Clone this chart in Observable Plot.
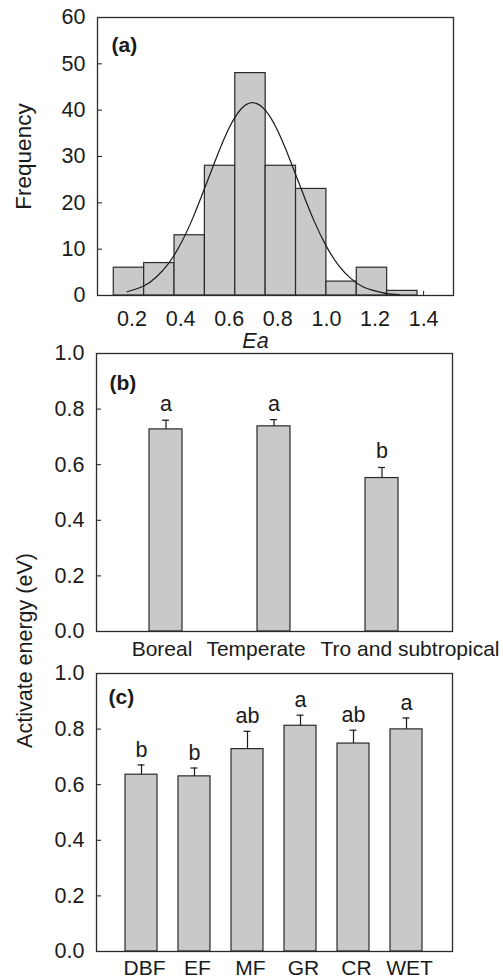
<!DOCTYPE html>
<html><head><meta charset="utf-8">
<script src="https://cdn.jsdelivr.net/npm/d3@7"></script>
<script src="https://cdn.jsdelivr.net/npm/@observablehq/plot@0.6"></script>
<style>
body{margin:0;background:#fff;}
#root{position:relative;width:503px;height:980px;overflow:hidden;}
#root svg{position:absolute;left:0;}
</style></head><body><div id="root"></div>
<script>
// ---- data ----
const binEdges = [0.125, 0.25, 0.375, 0.5, 0.625, 0.75, 0.875, 1.0, 1.125, 1.25, 1.375];
const binCounts = [6, 7, 13, 28, 48, 28, 23, 3, 6, 1];
const curveX = [0.18, 0.25, 0.30, 0.35, 0.40, 0.45, 0.50, 0.55, 0.60, 0.65, 0.70, 0.75, 0.80, 0.85, 0.90, 0.95, 1.00, 1.05, 1.10, 1.15, 1.20, 1.25, 1.30];
const curveY = [0.8, 2.1, 4.0, 6.9, 11.1, 16.7, 23.3, 30.1, 36.2, 40.3, 41.6, 39.9, 35.5, 29.3, 22.5, 16.0, 10.6, 6.5, 3.7, 1.9, 1.0, 0.4, 0.2];
const freqTicks = [0, 10, 20, 30, 40, 50, 60];
const eaTicks = [0.2, 0.4, 0.6, 0.8, 1.0, 1.2, 1.4];

const biomes = ["Boreal", "Temperate", "Tro and subtropical"];
const biomeMean = [0.727, 0.738, 0.552];
const biomeSE = [0.033, 0.024, 0.038];
const biomeLetters = ["a", "a", "b"];

const ecoTypes = ["DBF", "EF", "MF", "GR", "CR", "WET"];
const ecoMean = [0.636, 0.630, 0.728, 0.812, 0.748, 0.799];
const ecoSE = [0.035, 0.030, 0.064, 0.038, 0.048, 0.041];
const ecoLetters = ["b", "b", "ab", "a", "ab", "a"];
const energyTicks = [0, 0.2, 0.4, 0.6, 0.8, 1.0];

// ---- styles ----
const FONT = "'Liberation Sans', Arial, Helvetica, sans-serif";
const FS = 21.5;
const BAR = "#c8c9cb";
const EDGE = "#2a2a2a";
const INK = "#1a1a1a";
const style = {fontFamily: FONT, fontSize: FS + "px", color: INK, background: "none", overflow: "visible"};

const root = document.getElementById("root");
function place(svg, top) { svg.style.top = top + "px"; svg.style.position = "absolute"; root.appendChild(svg); }

// ---- panel (a) ----
const hist = binCounts.map((c, i) => ({x1: binEdges[i], x2: binEdges[i + 1], count: c}));
const curve = curveX.map((x, i) => ({x, y: curveY[i]}));
const A = Plot.plot({
  width: 503, height: 350,
  marginLeft: 97, marginRight: 50, marginTop: 17, marginBottom: 55,
  style,
  x: {domain: [0.058, 1.523], label: null},
  y: {domain: [0, 60], label: null},
  marks: [
    Plot.axisY(freqTicks, {tickSize: 5, dx: 5, tickFormat: () => "", label: null, stroke: INK}),
    Plot.axisX(eaTicks, {tickSize: 4, dy: -4, tickFormat: () => "", label: null, stroke: INK}),
    Plot.rectY(hist, {x1: "x1", x2: "x2", y: "count", fill: BAR, stroke: EDGE, strokeWidth: 1.2}),
    Plot.line(curve, {x: "x", y: "y", curve: "natural", stroke: INK, strokeWidth: 1.2}),
    Plot.frame({stroke: EDGE, strokeWidth: 1.3}),
    Plot.axisY(freqTicks, {tickSize: 0, tickPadding: 12, label: null, fontSize: FS}),
    Plot.axisX(eaTicks, {tickSize: 0, tickPadding: 15, tickFormat: d3.format(".1f"), label: null, fontSize: FS}),
    Plot.text(["Ea"], {text: d => d, frameAnchor: "bottom", dx: -20, dy: 46, lineAnchor: "middle", fontStyle: "italic", fontSize: FS}),
    Plot.text(["(a)"], {text: d => d, frameAnchor: "top-left", dx: 14, dy: 28, textAnchor: "start", lineAnchor: "middle", fontWeight: "bold", fontSize: 21}),
    Plot.text(["Frequency"], {text: d => d, frameAnchor: "left", dx: -74, rotate: -90, textAnchor: "middle", lineAnchor: "middle", fontSize: 22.5})
  ]
});
place(A, 0);

// ---- panel (b) ----
const biomeData = biomes.map((name, i) => ({name, mean: biomeMean[i], upper: biomeMean[i] + biomeSE[i], letter: biomeLetters[i]}));
const biomeDx = [-4, -18, 28];
const B = Plot.plot({
  width: 503, height: 321,
  marginLeft: 96, marginRight: 51, marginTop: 13, marginBottom: 30,
  style,
  x: {type: "band", domain: biomes, paddingInner: 0.692, paddingOuter: 0.494, label: null, axis: null},
  y: {domain: [0, 1], label: null},
  marks: [
    Plot.axisY(energyTicks, {tickSize: 5, dx: 5, tickFormat: () => "", label: null, stroke: INK}),
    Plot.barY(biomeData, {x: "name", y: "mean", fill: BAR, stroke: EDGE, strokeWidth: 1.2}),
    Plot.ruleX(biomeData, {x: "name", y1: "mean", y2: "upper", stroke: INK, strokeWidth: 1.2}),
    Plot.tickY(biomeData, {x: "name", y: "upper", insetLeft: 13, insetRight: 13, stroke: INK, strokeWidth: 1.2}),
    Plot.text(biomeData, {x: "name", y: "upper", text: "letter", dy: -9, lineAnchor: "bottom", fontSize: FS}),
    Plot.frame({stroke: EDGE, strokeWidth: 1.3}),
    Plot.axisY(energyTicks, {tickSize: 0, tickPadding: 12, tickFormat: d3.format(".1f"), label: null, fontSize: FS}),
    ...biomes.map((b, i) => Plot.text([b], {x: d => d, text: d => d, frameAnchor: "bottom", dy: 18, dx: biomeDx[i], lineAnchor: "middle", fontSize: 21})),
    Plot.text(["(b)"], {text: d => d, frameAnchor: "top-left", dx: 13, dy: 30, textAnchor: "start", lineAnchor: "middle", fontWeight: "bold", fontSize: 21}),
    Plot.text(["Activate energy (eV)"], {text: d => d, frameAnchor: "bottom-left", dx: -71, dy: 19, rotate: -90, textAnchor: "middle", lineAnchor: "middle", fontSize: 21.5})
  ]
});

// ---- panel (c) ----
const ecoData = ecoTypes.map((name, i) => ({name, mean: ecoMean[i], upper: ecoMean[i] + ecoSE[i], letter: ecoLetters[i]}));
const C = Plot.plot({
  width: 503, height: 319,
  marginLeft: 96, marginRight: 51, marginTop: 12, marginBottom: 29,
  style,
  x: {type: "band", domain: ecoTypes, paddingInner: 0.395, paddingOuter: 0.494, label: null, axis: null},
  y: {domain: [0, 1], label: null},
  marks: [
    Plot.axisY(energyTicks, {tickSize: 5, dx: 5, tickFormat: () => "", label: null, stroke: INK}),
    Plot.barY(ecoData, {x: "name", y: "mean", fill: BAR, stroke: EDGE, strokeWidth: 1.2}),
    Plot.ruleX(ecoData, {x: "name", y1: "mean", y2: "upper", stroke: INK, strokeWidth: 1.2}),
    Plot.tickY(ecoData, {x: "name", y: "upper", insetLeft: 12.5, insetRight: 12.5, stroke: INK, strokeWidth: 1.2}),
    Plot.text(ecoData, {x: "name", y: "upper", text: "letter", dy: -8, lineAnchor: "bottom", fontSize: FS}),
    Plot.frame({stroke: EDGE, strokeWidth: 1.3}),
    Plot.axisY(energyTicks, {tickSize: 0, tickPadding: 12, tickFormat: d3.format(".1f"), label: null, fontSize: FS}),
    Plot.text(ecoTypes, {x: d => d, text: d => d, frameAnchor: "bottom", dy: 17, dx: 3, lineAnchor: "middle", fontSize: 21}),
    Plot.text(["(c)"], {text: d => d, frameAnchor: "top-left", dx: 12, dy: 24, textAnchor: "start", lineAnchor: "middle", fontWeight: "bold", fontSize: 21})
  ]
});
place(C, 661);
place(B, 340);
</script></body></html>
